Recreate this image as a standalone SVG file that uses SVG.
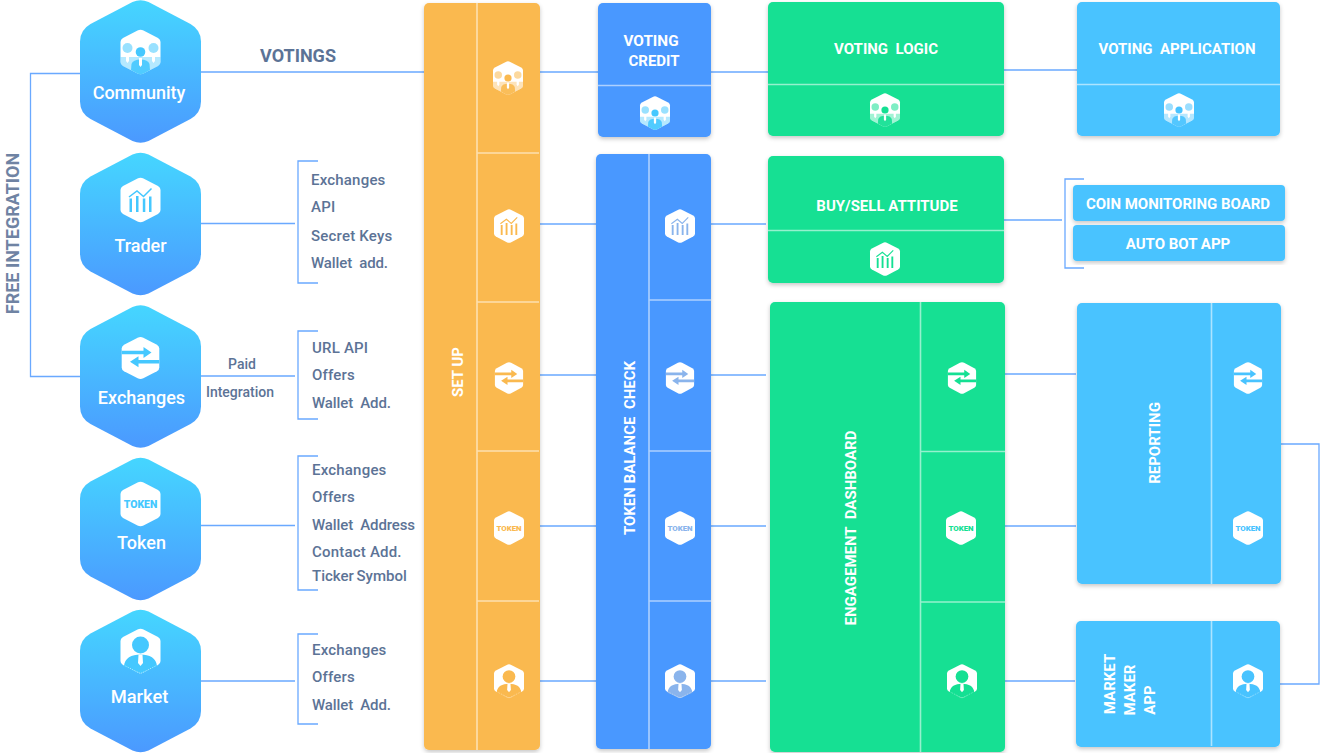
<svg xmlns="http://www.w3.org/2000/svg" xmlns:xlink="http://www.w3.org/1999/xlink" width="1320" height="753" viewBox="0 0 1320 753">
<style>
text{font-family:Roboto,"Liberation Sans",sans-serif;white-space:pre}
.hl{font-size:18px;font-weight:500;fill:#fff;text-anchor:middle}
.it{font-size:15px;font-weight:500;fill:#5c7396;letter-spacing:.2px}
.ws{letter-spacing:-.12px}
.pt{font-size:15px;font-weight:700;fill:#fff;text-anchor:middle}
.sd{fill:none;stroke:#fff;stroke-opacity:.55;stroke-width:1.6}
.cn{fill:none;stroke:#6aa9ff;stroke-width:1.3}
.or{fill:#fab94f;color:#fab94f}.bl{fill:#4898ff;color:#8ab4ec}.gr{fill:#14e093;color:#14e093}.cy{fill:#48c3ff;color:#48c3ff}
</style>
<defs>
<linearGradient id="hg" x1="0" y1="0" x2="0" y2="1"><stop offset="0" stop-color="#45d6ff"/><stop offset="1" stop-color="#4b99ff"/></linearGradient>
<filter id="sh" x="-10%" y="-10%" width="120%" height="120%"><feDropShadow dx="0" dy="2" stdDeviation="2" flood-color="#000" flood-opacity=".22"/></filter>
<path id="big" d="M-8,-69.500Q0,-73 8,-69.500L50,-47.500Q60.500,-41.500 60.500,-30L60.500,30Q60.500,41.500 50,47.500L8,69.500Q0,73 -8,69.500L-50,47.500Q-60.500,41.500 -60.500,30L-60.500,-30Q-60.500,-41.500 -50,-47.500Z" fill="url(#hg)"/>
<path id="hx" d="M-3,-21.500Q0,-23 3,-21.500L17.500,-14Q20,-12.500 20,-10L20,10Q20,12.500 17.500,14L3,21.500Q0,23 -3,21.500L-17.500,14Q-20,12.500 -20,10L-20,-10Q-20,-12.500 -17.500,-14Z"/>
<g id="i-comm">
<use xlink:href="#hx" fill="#fff"/>
<path d="M-20,5H20V10Q20,12.500 17.500,14L3,21.500Q0,23 -3,21.500L-17.500,14Q-20,12.500 -20,10Z" fill="currentColor" opacity=".4"/>
<circle cx="-13" cy="-4" r="5" fill="currentColor" opacity=".55"/><circle cx="13" cy="-4" r="5" fill="currentColor" opacity=".55"/>
<circle cx="0" cy="0" r="4.800" fill="currentColor"/>
<path d="M-9.500,18L-9,12C-8,9 -5,7.500 0,7.500C5,7.500 8,9 9,12L9.500,18L3,21.500Q0,23 -3,21.500Z" fill="currentColor" opacity=".9"/>
<path d="M-14.500,2H-11.500V9L-13,11L-14.500,9ZM11.500,2H14.500V9L13,11L11.500,9ZM-1.500,6H1.500V13L0,15L-1.500,13Z" fill="#fff"/>
</g>
<g id="i-trad">
<use xlink:href="#hx" fill="#fff"/>
<path d="M-11,12V-1.500H-8.500V12ZM-4.500,12V-4H-2V12ZM2.300,12V-1.500H4.800V12ZM8.500,12V-3.500H11V12Z" fill="currentColor"/>
<path d="M-11.500,-3L-3.500,-9L3,-3.500L11,-11.500" fill="none" stroke="currentColor" stroke-width="1.500"/>
</g>
<g id="i-exch">
<use xlink:href="#hx" fill="#fff" transform="scale(.94)"/>
<path d="M-18.800,-7.300H3V-11L11,-5.500L3,0V-3.700H-18.800Z" fill="currentColor"/>
<path d="M18.800,1.900H-2V-1.800L-10.500,3.700L-2,9.200V5.500H18.800Z" fill="currentColor"/>
</g>
<g id="i-tok">
<use xlink:href="#hx" fill="#fff"/>
<text x="0" y="3.800" text-anchor="middle" style="font-size:10.500px;font-weight:900;fill:currentColor">TOKEN</text>
</g>
<g id="i-mkt">
<use xlink:href="#hx" fill="#fff"/>
<circle cx="0" cy="-6" r="8.500" fill="currentColor"/>
<path d="M-16.500,15.500C-16,7 -9,3.500 0,3.500C9,3.500 16,7 16.500,15.500L3,21.500Q0,23 -3,21.500Z" fill="currentColor"/>
<path d="M-2,3.500H2L2.500,12L0,15L-2.500,12Z" fill="#fff"/>
<path d="M-15,15L0,22.500L15,15" fill="none" stroke="#fff" stroke-width=".6" stroke-dasharray="1 1.500"/>
</g>
</defs>

<g id="connectors" class="connectors">
<path class="cn" d="M80,73.500H30.500V376.500H80"/>
<path class="cn" d="M201,72H424M201,223.500H295M201,376H295M201,525.500H295M201,681H295"/>
<path class="cn" d="M318,161H298V283H318M318,331H298V419H318M318,456H298V590H318M318,634H298V724H318"/>
<path class="cn" d="M540,72H598M540,224H596M540,375H596M540,526H596M540,681H596"/>
<path class="cn" d="M711,72H768M711,224H766M711,375H766M711,526H766M711,681H766"/>
<path class="cn" d="M1004,70H1077M1004,220H1062M1084,179H1065V268H1084"/>
<path class="cn" d="M1005,374H1076M1005,526H1076M1005,681H1075"/>
<path class="cn" d="M1281,444H1319V684H1278"/>
</g>

<text x="298" y="62" text-anchor="middle" style="font-size:18px;font-weight:700;fill:#5c7396">VOTINGS</text>
<text transform="translate(19,233.500) rotate(-90)" text-anchor="middle" style="font-size:18px;font-weight:700;fill:#6f83a3">FREE INTEGRATION</text>

<g id="node-community" transform="translate(140.500,71.500)"><use xlink:href="#big"/><use xlink:href="#i-comm" x="0" y="-19.500" style="color:#45c8ff"/><text class="hl" x="-1.500" y="27">Community</text></g>
<g id="node-trader" transform="translate(140.500,224)"><use xlink:href="#big"/><use xlink:href="#i-trad" x="0" y="-24" style="color:#45c8ff"/><text class="hl" x="0" y="28">Trader</text></g>
<g id="node-exchanges" transform="translate(140.500,376.500)"><use xlink:href="#big"/><use xlink:href="#i-exch" x="0" y="-18.500" style="color:#45c8ff"/><text class="hl" x="1" y="27">Exchanges</text></g>
<g id="node-token" transform="translate(140.500,529)"><use xlink:href="#big"/><use xlink:href="#i-tok" x="0" y="-25" style="color:#45c8ff"/><text class="hl" x="1" y="20">Token</text></g>
<g id="node-market" transform="translate(140.500,681)"><use xlink:href="#big"/><use xlink:href="#i-mkt" x="0" y="-30" style="color:#45c8ff"/><text class="hl" x="-1" y="22" style="font-size:18.300px">Market</text></g>

<g id="labels-trader"><text class="it" x="311" y="185">Exchanges</text><text class="it" x="311" y="212">API</text><text class="it" x="311" y="241">Secret Keys</text><text class="it ws" x="311" y="268">Wallet  add.</text></g>
<g id="labels-exchanges"><text x="242" y="369" text-anchor="middle" style="font-size:14px;font-weight:500;fill:#5c7396">Paid</text><text x="240" y="397" text-anchor="middle" style="font-size:14px;font-weight:500;fill:#5c7396">Integration</text><text class="it" x="312" y="353">URL API</text><text class="it" x="312" y="380">Offers</text><text class="it ws" x="312" y="408">Wallet  Add.</text></g>
<g id="labels-token"><text class="it" x="312" y="475">Exchanges</text><text class="it" x="312" y="502">Offers</text><text class="it ws" x="312" y="530">Wallet  Address</text><text class="it" x="312" y="557">Contact Add.</text><text class="it" x="312" y="581" style="letter-spacing:0;word-spacing:-1px">Ticker Symbol</text></g>
<g id="labels-market"><text class="it" x="312" y="655">Exchanges</text><text class="it" x="312" y="682">Offers</text><text class="it ws" x="312" y="710">Wallet  Add.</text></g>

<g id="panel-setup" class="or"><rect x="424" y="3" width="116" height="747" rx="5" filter="url(#sh)"/><path class="sd" d="M477,3V750M477,153H539M477,302H539M477,451H539M477,601H539"/>
<text class="pt" transform="translate(463,372) rotate(-90)">SET UP</text>
<use xlink:href="#i-comm" transform="translate(508,78) scale(.75)"/><use xlink:href="#i-trad" transform="translate(509,226) scale(.75)"/><use xlink:href="#i-exch" transform="translate(509,378) scale(.75)"/><use xlink:href="#i-tok" transform="translate(509,528) scale(.75)"/><use xlink:href="#i-mkt" transform="translate(509,681) scale(.75)"/></g>

<g id="panel-voting-credit" class="bl"><rect x="598" y="3" width="113" height="134" rx="5" filter="url(#sh)"/><path class="sd" d="M598,85.500H711"/>
<text class="pt" x="651" y="46" style="font-size:15.300px">VOTING</text><text class="pt" x="654" y="66">CREDIT</text>
<use xlink:href="#i-comm" transform="translate(655,113) scale(.75)" style="color:#45c8ff"/></g>

<g id="panel-token-balance" class="bl"><rect x="596" y="154" width="115" height="595" rx="5" filter="url(#sh)"/><path class="sd" d="M649,154V749M649,300H711M649,451H711M649,601H711"/>
<text class="pt" transform="translate(635,448) rotate(-90)">TOKEN BALANCE  CHECK</text>
<use xlink:href="#i-trad" transform="translate(680,226) scale(.75)"/><use xlink:href="#i-exch" transform="translate(680,378) scale(.75)"/><use xlink:href="#i-tok" transform="translate(680,528) scale(.75)"/><use xlink:href="#i-mkt" transform="translate(680,681) scale(.75)"/></g>

<g id="panel-voting-logic" class="gr"><rect x="768" y="2" width="236" height="134" rx="5" filter="url(#sh)"/><path class="sd" d="M768,84.500H1004"/>
<text class="pt" x="886" y="54">VOTING  LOGIC</text>
<use xlink:href="#i-comm" transform="translate(885,110) scale(.75)"/></g>

<g id="panel-buy-sell" class="gr"><rect x="768" y="156" width="236" height="127" rx="5" filter="url(#sh)"/><path class="sd" d="M768,230.500H1004"/>
<text class="pt" x="887" y="211">BUY/SELL ATTITUDE</text>
<use xlink:href="#i-trad" transform="translate(885,259) scale(.75)"/></g>

<g id="panel-engagement" class="gr"><rect x="770" y="302" width="235" height="450" rx="5" filter="url(#sh)"/><path class="sd" d="M920.500,302V752M920,451.500H1005M920,602H1005"/>
<text class="pt" transform="translate(856,528) rotate(-90)">ENGAGEMENT  DASHBOARD</text>
<use xlink:href="#i-exch" transform="translate(962,378) scale(.75)"/><use xlink:href="#i-tok" transform="translate(961,528) scale(.75)"/><use xlink:href="#i-mkt" transform="translate(962,681) scale(.75)"/></g>

<g id="panel-voting-application" class="cy"><rect x="1077" y="2" width="203" height="134" rx="5" filter="url(#sh)"/><path class="sd" d="M1077,84.500H1280"/>
<text class="pt" x="1177" y="54">VOTING  APPLICATION</text>
<use xlink:href="#i-comm" transform="translate(1179,110) scale(.75)"/></g>

<g id="panel-coin-monitoring" class="cy"><rect x="1073" y="185" width="212" height="36" rx="4" filter="url(#sh)"/><text class="pt" x="1178" y="209">COIN MONITORING BOARD</text></g>
<g id="panel-auto-bot" class="cy"><rect x="1073" y="225" width="212" height="36" rx="4" filter="url(#sh)"/><text class="pt" x="1178" y="249">AUTO BOT APP</text></g>

<g id="panel-reporting" class="cy"><rect x="1077" y="303" width="204" height="281" rx="5" filter="url(#sh)"/><path class="sd" d="M1211.500,303V584"/>
<text class="pt" transform="translate(1160,443) rotate(-90)">REPORTING</text>
<use xlink:href="#i-exch" transform="translate(1248,378) scale(.75)"/><use xlink:href="#i-tok" transform="translate(1248,528) scale(.75)"/></g>

<g id="panel-market-maker" class="cy"><rect x="1076" y="621" width="204" height="126" rx="5" filter="url(#sh)"/><path class="sd" d="M1211.500,621V746"/>
<text class="pt" transform="translate(1115,684) rotate(-90)">MARKET</text><text class="pt" transform="translate(1135,690) rotate(-90)">MAKER</text><text class="pt" transform="translate(1155,700) rotate(-90)">APP</text>
<use xlink:href="#i-mkt" transform="translate(1248,681) scale(.75)"/></g>
</svg>
